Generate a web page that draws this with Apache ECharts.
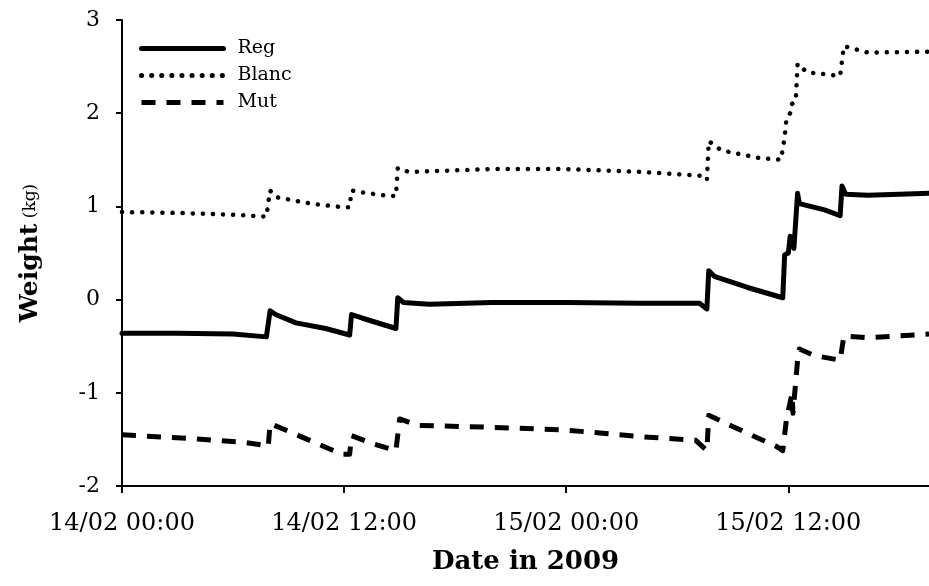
<!DOCTYPE html>
<html><head><meta charset="utf-8">
<script src="https://cdn.jsdelivr.net/npm/echarts@6/dist/echarts.min.js"></script>
<style>html,body{margin:0;padding:0;background:#fff}#c{width:929px;height:586px}</style>
</head><body><div id="c"></div>
<script>
// x values: hours since 14/02/2009 00:00
var regHours = [0,3,6,7.8,7.9,8.0,8.3,9.4,11,12.3,12.4,13,14.8,14.9,15.2,16.6,20,24,28,31.2,31.6,31.7,32,33.8,35.0,35.7,35.8,36.0,36.1,36.3,36.5,36.6,38,38.8,38.9,39.1,40.3,42,43.6];
var regValues = [-0.36,-0.36,-0.37,-0.40,-0.42,-0.12,-0.16,-0.25,-0.31,-0.38,-0.16,-0.20,-0.31,0.02,-0.03,-0.05,-0.03,-0.03,-0.04,-0.04,-0.10,0.31,0.25,0.13,0.06,0.02,0.48,0.50,0.68,0.55,1.14,1.03,0.96,0.90,1.22,1.13,1.12,1.13,1.14];
var blancHours = [0,3,6,7.8,7.9,8.0,8.3,10.2,12.0,12.3,12.4,13.0,14.1,14.8,14.9,15.5,17,20,24,28,31.2,31.6,31.7,32.4,34.4,35.6,35.8,35.9,36.1,36.2,36.4,36.5,37.0,38.8,39.0,40.3,43.6];
var blancValues = [0.94,0.93,0.91,0.89,0.88,1.17,1.10,1.03,0.99,0.99,1.17,1.15,1.12,1.11,1.41,1.37,1.38,1.40,1.40,1.37,1.33,1.28,1.70,1.60,1.52,1.50,1.74,1.94,2.00,2.10,2.13,2.53,2.44,2.40,2.72,2.65,2.66];
var mutHours = [0,3.6,6.5,7.6,7.9,8.0,9.2,11.9,12.3,12.4,13.6,14.8,15.0,16,20,24,28,31.0,31.6,31.7,33.2,35.4,35.7,35.9,36.2,36.25,36.5,36.6,37.4,38.8,39.0,40.3,43.6];
var mutValues = [-1.45,-1.49,-1.53,-1.56,-1.58,-1.33,-1.43,-1.66,-1.66,-1.46,-1.55,-1.62,-1.28,-1.35,-1.37,-1.40,-1.47,-1.51,-1.62,-1.24,-1.38,-1.58,-1.62,-1.28,-1.01,-1.22,-0.65,-0.53,-0.60,-0.65,-0.39,-0.41,-0.37];
var xTicks = [0,12,24,36];
var seriesNames = ['Reg','Blanc','Mut'];

function pairs(h, v){ return h.map(function(x,i){ return [x, v[i]]; }); }
function fmtX(v){
  var day = 14 + Math.floor(v/24);
  var hr = Math.round(v % 24);
  return day + '/02 ' + (hr<10?'0':'') + hr + ':00';
}
var FONT = '"DejaVu Serif", "Liberation Serif", serif';
var chart = echarts.init(document.getElementById('c'));
chart.setOption({
  animation: false,
  backgroundColor: '#fff',
  textStyle: {fontFamily: FONT, color: '#000'},
  grid: {left: 122, top: 20, right: 0, bottom: 100, containLabel: false},
  legend: {
    orient: 'vertical', left: 134, top: 34, itemWidth: 82, itemHeight: 14, itemGap: 8,
    itemStyle: {opacity: 0},
    lineStyle: {width: 5},
    data: seriesNames,
    textStyle: {fontFamily: FONT, fontSize: 19, color: '#000', padding: [0,0,0,9]}
  },
  xAxis: {
    type: 'value', min: 0, max: 43.6,
    axisLine: {onZero: false, lineStyle: {color: '#000', width: 2}},
    axisTick: {show: true, length: 7, lineStyle: {color: '#000', width: 2}, customValues: xTicks},
    axisLabel: {customValues: xTicks, formatter: fmtX, fontFamily: FONT, fontSize: 24, color: '#000', margin: 26},
    splitLine: {show: false},
    name: 'Date in 2009', nameLocation: 'middle', nameGap: 63,
    nameTextStyle: {fontFamily: FONT, fontSize: 26, fontWeight: 'bold', color: '#000'}
  },
  yAxis: {
    type: 'value', min: -2, max: 3, interval: 1,
    axisLine: {show: true, onZero: false, lineStyle: {color: '#000', width: 2}},
    axisTick: {show: true, length: 6, lineStyle: {color: '#000', width: 2}},
    axisLabel: {fontFamily: FONT, fontSize: 22, color: '#000', margin: 22},
    splitLine: {show: false},
    name: '{b|Weight}{s| (kg)}', nameLocation: 'middle', nameGap: 79,
    nameTextStyle: {
      rich: {
        b: {fontFamily: FONT, fontSize: 25, fontWeight: 'bold', color: '#000'},
        s: {fontFamily: FONT, fontSize: 17, color: '#000'}
      }
    }
  },
  series: [
    {name: 'Reg', type: 'line', symbol: 'none', data: pairs(regHours, regValues),
     lineStyle: {color: '#000', width: 5, cap: 'round', join: 'round'}, itemStyle: {color: '#000'}},
    {name: 'Blanc', type: 'line', symbol: 'none', data: pairs(blancHours, blancValues),
     lineStyle: {color: '#000', width: 4.5, type: [0.1, 10], cap: 'round', join: 'round'}, itemStyle: {color: '#000'}},
    {name: 'Mut', type: 'line', symbol: 'none', clip: false, data: pairs(mutHours, mutValues),
     lineStyle: {color: '#000', width: 5, type: [14, 11], cap: 'butt', join: 'round'}, itemStyle: {color: '#000'}}
  ]
});
</script></body></html>
